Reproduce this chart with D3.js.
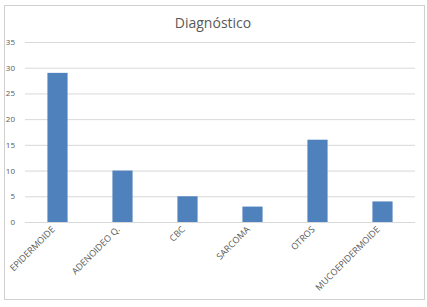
<!DOCTYPE html>
<html>
<head>
<meta charset="utf-8">
<script src="https://cdn.jsdelivr.net/npm/d3@7"></script>
<style>
  body { margin: 0; background: #fff; }
  text { font-family: "Open Sans", "Liberation Sans", sans-serif; fill: #595959; }
</style>
</head>
<body>
<div id="chart"></div>
<script>
  const categories = ["EPIDERMOIDE", "ADENOIDEO Q.", "CBC", "SARCOMA", "OTROS", "MUCOEPIDERMOIDE"];
  const values = [29, 10, 5, 3, 16, 4];
  const yTicks = [0, 5, 10, 15, 20, 25, 30, 35];
  const chartTitle = "Diagnóstico";

  const width = 427;
  const height = 307;
  const plotLeft = 25, plotRight = 415, plotTop = 42, plotBottom = 222;

  let svg = d3.select("#chart")
    .append("svg")
    .attr("width", width)
    .attr("height", height);

  // outer frame
  svg.append("rect")
    .attr("x", 4.5).attr("y", 5.5)
    .attr("width", 420).attr("height", 294)
    .attr("fill", "#fff")
    .attr("stroke", "#d0d0d0");

  svg.append("text")
    .attr("x", 213).attr("y", 28)
    .attr("text-anchor", "middle")
    .style("font-size", "14px")
    .text(chartTitle);

  let x = d3.scaleBand()
    .domain(categories)
    .range([plotLeft, plotRight])
    .paddingInner(0.69)
    .paddingOuter(0.345);

  let y = d3.scaleLinear()
    .domain([0, 35])
    .range([plotBottom, plotTop]);

  // gridlines + y labels
  let yAxis = d3.axisLeft(y)
    .tickValues(yTicks)
    .tickSize(-(plotRight - plotLeft))
    .tickPadding(10);

  let yg = svg.append("g")
    .attr("transform", `translate(${plotLeft},0)`)
    .call(yAxis);
  yg.select(".domain").remove();
  yg.selectAll(".tick line").attr("stroke", "#d9d9d9");
  yg.selectAll(".tick text")
    .style("font-size", "8px")
    .attr("font-family", null);

  svg.append("g")
    .selectAll("rect")
    .data(values)
    .enter()
    .append("rect")
      .attr("x", (d, i) => x(categories[i]))
      .attr("y", d => y(d))
      .attr("width", x.bandwidth())
      .attr("height", d => y(0) - y(d))
      .attr("fill", "#4f81bd");

  // baseline
  svg.append("line")
    .attr("x1", plotLeft).attr("x2", plotRight)
    .attr("y1", plotBottom + 0.5).attr("y2", plotBottom + 0.5)
    .attr("stroke", "#d9d9d9");

  // rotated category labels
  svg.append("g")
    .selectAll("text")
    .data(categories)
    .enter()
    .append("text")
      .attr("text-anchor", "end")
      .style("font-size", "9px")
      .attr("transform", d => `translate(${x(d) + x.bandwidth() / 2 - 2},${plotBottom + 8}) rotate(-45)`)
      .text(d => d);
</script>
</body>
</html>
